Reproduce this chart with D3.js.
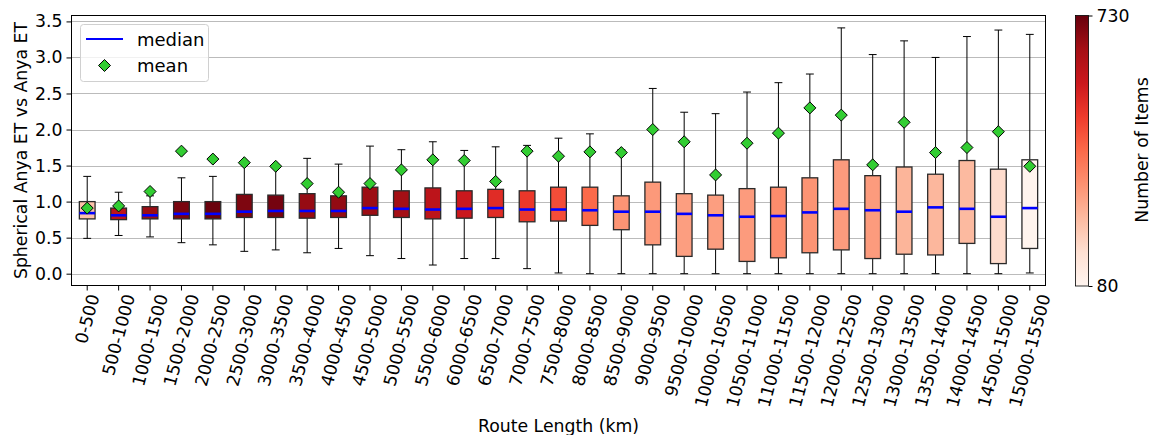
<!DOCTYPE html>
<html>
<head>
<meta charset="utf-8">
<script src="https://cdn.jsdelivr.net/npm/d3@7"></script>
<style>
  html, body { margin: 0; padding: 0; background: #fff; }
  svg { display: block; font-family: "DejaVu Sans", sans-serif; }
</style>
</head>
<body>
<svg id="chart" width="1151" height="435"></svg>
<script>
const categories = ["0-500","500-1000","1000-1500","1500-2000","2000-2500","2500-3000","3000-3500","3500-4000","4000-4500","4500-5000","5000-5500","5500-6000","6000-6500","6500-7000","7000-7500","7500-8000","8000-8500","8500-9000","9000-9500","9500-10000","10000-10500","10500-11000","11000-11500","11500-12000","12000-12500","12500-13000","13000-13500","13500-14000","14000-14500","14500-15000","15000-15500"];
const whiskerLow  = [0.49,0.53,0.51,0.43,0.40,0.31,0.33,0.29,0.35,0.25,0.21,0.12,0.21,0.21,0.07,0.01,0.00,0.00,0.00,0.00,0.00,0.00,0.00,0.00,0.00,0.00,0.00,0.00,0.00,0.00,0.01];
const q1          = [0.76,0.75,0.76,0.76,0.76,0.78,0.78,0.77,0.78,0.81,0.78,0.76,0.77,0.78,0.72,0.73,0.67,0.61,0.40,0.24,0.34,0.17,0.22,0.29,0.33,0.21,0.27,0.26,0.42,0.14,0.35];
const medians     = [0.84,0.81,0.81,0.83,0.83,0.86,0.87,0.87,0.87,0.91,0.90,0.89,0.90,0.91,0.89,0.89,0.88,0.86,0.86,0.83,0.81,0.79,0.80,0.85,0.90,0.88,0.86,0.92,0.90,0.79,0.91];
const q3          = [1.00,0.91,0.93,1.00,1.00,1.10,1.09,1.11,1.08,1.20,1.15,1.19,1.15,1.17,1.15,1.20,1.20,1.08,1.27,1.11,1.09,1.18,1.20,1.33,1.58,1.36,1.48,1.38,1.57,1.45,1.58];
const whiskerHigh = [1.35,1.13,1.08,1.33,1.35,1.54,1.49,1.60,1.52,1.77,1.72,1.83,1.71,1.76,1.78,1.88,1.94,1.72,2.57,2.24,2.22,2.52,2.65,2.77,3.41,3.04,3.23,3.00,3.29,3.38,3.32];
const means       = [0.91,0.94,1.14,1.70,1.59,1.54,1.49,1.25,1.13,1.25,1.44,1.58,1.57,1.28,1.70,1.63,1.69,1.68,2.00,1.83,1.37,1.81,1.95,2.30,2.20,1.51,2.10,1.68,1.75,1.97,1.49];
const counts      = [230,600,660,705,725,700,712,668,672,660,650,600,570,520,495,455,405,320,310,300,300,305,335,320,305,305,255,250,245,170,85];
const yTicks = [0.0,0.5,1.0,1.5,2.0,2.5,3.0,3.5];
const countRange = [80, 730];
const redsAnchors = ["#fff5f0","#fee0d2","#fcbba1","#fc9272","#fb6a4a","#ef3b2c","#cb181d","#a50f15","#67000d"];

const FS = 17.3;
const svg = d3.select("#chart");
const L = 71.5, R = 1045.5, T = 15.5, B = 285.5;

const x = d3.scaleBand().domain(categories).range([L, R]).padding(0);
const bw = x.bandwidth();
const cx = c => x(c) + bw / 2;
const y = d3.scaleLinear().domain([-0.164, 3.582]).range([B, T]);

const reds = d3.piecewise(d3.interpolateRgb, redsAnchors);
const color = d3.scaleSequential(reds).domain(countRange);

// gridlines
svg.append("g").selectAll("line").data(yTicks).join("line")
  .attr("x1", L).attr("x2", R)
  .attr("y1", d => Math.round(y(d)) + 0.5).attr("y2", d => Math.round(y(d)) + 0.5)
  .attr("stroke", "#b0b0b0").attr("stroke-width", 1).attr("opacity", 0.85);

// boxes
const boxW = bw * 0.5, capW = bw * 0.25;
const g = svg.append("g");
categories.forEach((c, i) => {
  const xc = cx(c);
  g.append("line").attr("x1", xc).attr("x2", xc).attr("y1", y(q3[i])).attr("y2", y(whiskerHigh[i]))
    .attr("stroke", "#000").attr("stroke-width", 1);
  g.append("line").attr("x1", xc).attr("x2", xc).attr("y1", y(q1[i])).attr("y2", y(whiskerLow[i]))
    .attr("stroke", "#000").attr("stroke-width", 1);
  g.append("line").attr("x1", xc - capW/2).attr("x2", xc + capW/2).attr("y1", y(whiskerHigh[i])).attr("y2", y(whiskerHigh[i]))
    .attr("stroke", "#000").attr("stroke-width", 1);
  g.append("line").attr("x1", xc - capW/2).attr("x2", xc + capW/2).attr("y1", y(whiskerLow[i])).attr("y2", y(whiskerLow[i]))
    .attr("stroke", "#000").attr("stroke-width", 1);
  g.append("rect").attr("x", xc - boxW/2).attr("width", boxW)
    .attr("y", y(q3[i])).attr("height", y(q1[i]) - y(q3[i]))
    .attr("fill", color(counts[i])).attr("stroke", "#2a2a2a").attr("stroke-width", 1.3);
  g.append("line").attr("x1", xc - boxW/2).attr("x2", xc + boxW/2).attr("y1", y(medians[i])).attr("y2", y(medians[i]))
    .attr("stroke", "#0000ff").attr("stroke-width", 2.6);
});
const diamond = (xc, yc, r) => `M${xc},${yc-r}L${xc+r},${yc}L${xc},${yc+r}L${xc-r},${yc}Z`;
g.selectAll("path.mean").data(categories).join("path").attr("class", "mean")
  .attr("d", (c, i) => diamond(cx(c), y(means[i]), 6))
  .attr("fill", "#32cd32").attr("stroke", "#000").attr("stroke-width", 1);

// frame
svg.append("rect").attr("x", L).attr("y", T).attr("width", R - L).attr("height", B - T)
  .attr("fill", "none").attr("stroke", "#000").attr("stroke-width", 1);

// y axis
const yAxis = svg.append("g").attr("transform", `translate(${L},0)`)
  .call(d3.axisLeft(y).tickValues(yTicks).tickFormat(d3.format(".1f")).tickSizeOuter(0).tickSize(5).tickPadding(4));
yAxis.select(".domain").remove();
yAxis.selectAll("text").attr("font-size", FS).attr("fill", "#000").attr("font-family", "DejaVu Sans");
yAxis.selectAll("line").attr("stroke", "#000");

// x axis
const xAxis = svg.append("g").attr("transform", `translate(0,${B})`)
  .call(d3.axisBottom(x).tickSize(5).tickSizeOuter(0).tickFormat(""));
xAxis.select(".domain").remove();
xAxis.selectAll("line").attr("stroke", "#000");

const xl = svg.append("g");
categories.forEach(c => {
  const t = xl.append("text").text(c)
    .attr("font-size", FS).attr("fill", "#000")
    .attr("text-anchor", "end")
    .attr("transform", `translate(${cx(c)},300) rotate(-75)`);
  const bb = t.node().getBoundingClientRect();
  const dx = cx(c) - (bb.left + bb.width / 2);
  const dy = 292 - bb.top;
  t.attr("transform", `translate(${cx(c) + dx},${300 + dy}) rotate(-75)`);
});

svg.append("text").attr("x", (L + R) / 2).attr("y", 432).attr("text-anchor", "middle")
  .attr("font-size", FS).text("Route Length (km)");
svg.append("text").attr("transform", `translate(27,${(T + B) / 2}) rotate(-90)`).attr("text-anchor", "middle")
  .attr("font-size", FS).text("Spherical Anya ET vs Anya ET");

// legend
const lg = svg.append("g");
lg.append("rect").attr("x", 80.5).attr("y", 24.5).attr("width", 128).attr("height", 57).attr("rx", 3)
  .attr("fill", "#fff").attr("fill-opacity", 0.8).attr("stroke", "#d0d0d0").attr("stroke-width", 1);
lg.append("line").attr("x1", 86).attr("x2", 123).attr("y1", 39).attr("y2", 39).attr("stroke", "#0000ff").attr("stroke-width", 2);
lg.append("path").attr("d", diamond(104.5, 65.5, 6)).attr("fill", "#32cd32").attr("stroke", "#000").attr("stroke-width", 1);
lg.append("text").attr("x", 137).attr("y", 45.5).attr("font-size", 18).text("median");
lg.append("text").attr("x", 137).attr("y", 71.5).attr("font-size", 18).text("mean");

// colorbar
const defs = svg.append("defs");
const grad = defs.append("linearGradient").attr("id", "cbgrad").attr("x1", 0).attr("x2", 0).attr("y1", 1).attr("y2", 0);
redsAnchors.forEach((col, i) => grad.append("stop").attr("offset", i / (redsAnchors.length - 1)).attr("stop-color", col));
const cbX = 1075.5, cbW = 13, cbT = 15.5, cbB = 286;
svg.append("rect").attr("x", cbX).attr("y", cbT).attr("width", cbW).attr("height", cbB - cbT)
  .attr("fill", "url(#cbgrad)").attr("stroke", "#000").attr("stroke-width", 0.8);
const cy = d3.scaleLinear().domain(countRange).range([cbB, cbT]);
const cAxis = svg.append("g").attr("transform", `translate(${cbX + cbW},0)`)
  .call(d3.axisRight(cy).tickValues(countRange).tickSize(4).tickPadding(4).tickSizeOuter(0));
cAxis.select(".domain").remove();
cAxis.selectAll("text").attr("font-size", FS).attr("fill", "#000").attr("font-family", "DejaVu Sans");
cAxis.selectAll("line").attr("stroke", "#000");
svg.append("text").attr("transform", `translate(1148,150) rotate(-90)`).attr("text-anchor", "middle")
  .attr("font-size", FS).text("Number of Items");
</script>
</body>
</html>
